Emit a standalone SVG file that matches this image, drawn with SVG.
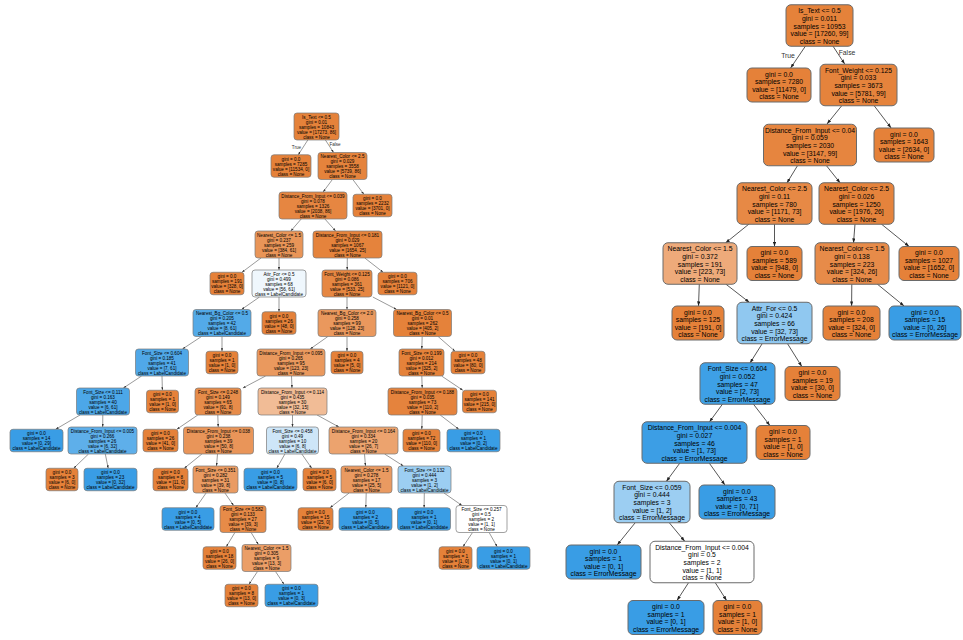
<svg xmlns="http://www.w3.org/2000/svg" width="963" height="640" viewBox="0 0 963 640">
<style>
text{font-family:"Liberation Sans",Arial,Helvetica,sans-serif;text-anchor:middle;dominant-baseline:central;fill:#000}
.L text{font-size:4.6px}
.R text{font-size:6.8px}
.L rect{stroke:#7a7a7a;stroke-width:0.7}
.R rect{stroke:#6a6a6a;stroke-width:1}
.o{fill:#e58139}.b{fill:#399de5}
.el line{stroke:#555;stroke-width:0.6;fill:none}
.er line{stroke:#444;stroke-width:0.9;fill:none}
.lbl{fill:#333}
</style>
<defs>
<marker id="aL" viewBox="0 0 10 7" refX="10" refY="3.5" markerUnits="userSpaceOnUse" markerWidth="3" markerHeight="2.2" orient="auto"><path d="M0,0L10,3.5L0,7z" fill="#333"/></marker>
<marker id="aR" viewBox="0 0 10 7" refX="10" refY="3.5" markerUnits="userSpaceOnUse" markerWidth="4.6" markerHeight="3.3" orient="auto"><path d="M0,0L10,3.5L0,7z" fill="#222"/></marker>
</defs>
<rect width="963" height="640" fill="#fff"/>
<g id="connectors">
<g class="el" marker-end="url(#aL)">
<line x1="307.8" y1="140" x2="298.3" y2="154.75" marker-end="url(#aL)"/>
<line x1="325.4" y1="140" x2="333.6" y2="152.5" marker-end="url(#aL)"/>
<line x1="332.4" y1="179.5" x2="323.1" y2="192" marker-end="url(#aL)"/>
<line x1="352.8" y1="179.5" x2="363.9" y2="194.25" marker-end="url(#aL)"/>
<line x1="301.2" y1="219" x2="290.8" y2="231" marker-end="url(#aL)"/>
<line x1="324.9" y1="219" x2="335.6" y2="231" marker-end="url(#aL)"/>
<line x1="261" y1="258" x2="242" y2="272.25" marker-end="url(#aL)"/>
<line x1="279" y1="258" x2="279" y2="270" marker-end="url(#aL)"/>
<line x1="347.3" y1="258" x2="347.2" y2="270" marker-end="url(#aL)"/>
<line x1="364.8" y1="258" x2="383.1" y2="272.25" marker-end="url(#aL)"/>
<line x1="259.5" y1="297" x2="241.5" y2="309.5" marker-end="url(#aL)"/>
<line x1="279" y1="297" x2="279" y2="311.75" marker-end="url(#aL)"/>
<line x1="347" y1="297" x2="347" y2="309.5" marker-end="url(#aL)"/>
<line x1="372.8" y1="297" x2="396.7" y2="309.5" marker-end="url(#aL)"/>
<line x1="201.5" y1="336.5" x2="182.5" y2="349" marker-end="url(#aL)"/>
<line x1="222" y1="336.5" x2="222" y2="351.25" marker-end="url(#aL)"/>
<line x1="327.9" y1="336.5" x2="310.2" y2="349" marker-end="url(#aL)"/>
<line x1="347" y1="336.5" x2="347" y2="351.25" marker-end="url(#aL)"/>
<line x1="422.2" y1="336.5" x2="421.8" y2="349" marker-end="url(#aL)"/>
<line x1="438.1" y1="336.5" x2="455" y2="351.25" marker-end="url(#aL)"/>
<line x1="141.6" y1="376" x2="123.4" y2="388" marker-end="url(#aL)"/>
<line x1="162" y1="376" x2="162.4" y2="390.25" marker-end="url(#aL)"/>
<line x1="265.6" y1="376" x2="242.9" y2="388" marker-end="url(#aL)"/>
<line x1="291.5" y1="376" x2="292" y2="388" marker-end="url(#aL)"/>
<line x1="421.8" y1="376" x2="422.2" y2="388" marker-end="url(#aL)"/>
<line x1="441.6" y1="376" x2="462.8" y2="390.25" marker-end="url(#aL)"/>
<line x1="80" y1="415" x2="55.7" y2="429.25" marker-end="url(#aL)"/>
<line x1="102.8" y1="415" x2="102.7" y2="427" marker-end="url(#aL)"/>
<line x1="197.8" y1="415" x2="176.9" y2="429.25" marker-end="url(#aL)"/>
<line x1="217.8" y1="415" x2="218.2" y2="427" marker-end="url(#aL)"/>
<line x1="292.5" y1="415" x2="292.5" y2="427" marker-end="url(#aL)"/>
<line x1="317.1" y1="415" x2="338.9" y2="427" marker-end="url(#aL)"/>
<line x1="422.2" y1="415" x2="421.8" y2="429.25" marker-end="url(#aL)"/>
<line x1="440.2" y1="415" x2="458.8" y2="429.25" marker-end="url(#aL)"/>
<line x1="88.5" y1="454" x2="73.7" y2="468.25" marker-end="url(#aL)"/>
<line x1="105.3" y1="454" x2="108.2" y2="468.25" marker-end="url(#aL)"/>
<line x1="201.9" y1="454" x2="184.3" y2="468.25" marker-end="url(#aL)"/>
<line x1="217.5" y1="454" x2="216.5" y2="466" marker-end="url(#aL)"/>
<line x1="284.9" y1="454" x2="276.8" y2="468.25" marker-end="url(#aL)"/>
<line x1="301.8" y1="454" x2="311.7" y2="468.25" marker-end="url(#aL)"/>
<line x1="364.5" y1="454" x2="365.5" y2="466" marker-end="url(#aL)"/>
<line x1="384.6" y1="454" x2="403.4" y2="466" marker-end="url(#aL)"/>
<line x1="206.1" y1="493" x2="195.8" y2="507.75" marker-end="url(#aL)"/>
<line x1="224.9" y1="493" x2="233.6" y2="505.5" marker-end="url(#aL)"/>
<line x1="349.1" y1="493" x2="330" y2="507.75" marker-end="url(#aL)"/>
<line x1="366.2" y1="493" x2="365.8" y2="507.75" marker-end="url(#aL)"/>
<line x1="424.3" y1="493" x2="424.1" y2="507.75" marker-end="url(#aL)"/>
<line x1="444" y1="493" x2="462" y2="505.5" marker-end="url(#aL)"/>
<line x1="234.9" y1="532.5" x2="226.3" y2="546.75" marker-end="url(#aL)"/>
<line x1="251.1" y1="532.5" x2="258.4" y2="544.5" marker-end="url(#aL)"/>
<line x1="472.5" y1="532.5" x2="463" y2="546.75" marker-end="url(#aL)"/>
<line x1="489.1" y1="532.5" x2="497.2" y2="546.75" marker-end="url(#aL)"/>
<line x1="257.5" y1="571.5" x2="249" y2="584.25" marker-end="url(#aL)"/>
<line x1="275.5" y1="571.5" x2="284" y2="584.25" marker-end="url(#aL)"/>
</g>
<g class="er">
<line x1="805.5" y1="46" x2="790.6" y2="68" marker-end="url(#aR)"/>
<line x1="832.9" y1="46" x2="844.7" y2="64" marker-end="url(#aR)"/>
<line x1="841.5" y1="106" x2="827" y2="124" marker-end="url(#aR)"/>
<line x1="874.4" y1="106" x2="891.1" y2="128" marker-end="url(#aR)"/>
<line x1="797.3" y1="166" x2="786.9" y2="183" marker-end="url(#aR)"/>
<line x1="826.7" y1="166" x2="840.2" y2="183" marker-end="url(#aR)"/>
<line x1="749" y1="224" x2="725.5" y2="243" marker-end="url(#aR)"/>
<line x1="774.5" y1="224" x2="774.5" y2="246.5" marker-end="url(#aR)"/>
<line x1="855" y1="224" x2="853.5" y2="243" marker-end="url(#aR)"/>
<line x1="881.3" y1="224" x2="909.1" y2="246.5" marker-end="url(#aR)"/>
<line x1="699.3" y1="284" x2="698.5" y2="306" marker-end="url(#aR)"/>
<line x1="725.7" y1="284" x2="749.5" y2="302.5" marker-end="url(#aR)"/>
<line x1="851.8" y1="284" x2="851.6" y2="306" marker-end="url(#aR)"/>
<line x1="877.2" y1="284" x2="904.1" y2="306" marker-end="url(#aR)"/>
<line x1="762.3" y1="343.5" x2="750" y2="363" marker-end="url(#aR)"/>
<line x1="787.4" y1="343.5" x2="801.8" y2="366.5" marker-end="url(#aR)"/>
<line x1="722.6" y1="404" x2="709.4" y2="422" marker-end="url(#aR)"/>
<line x1="753.3" y1="404" x2="769.9" y2="425.5" marker-end="url(#aR)"/>
<line x1="679.9" y1="463" x2="666.3" y2="481.5" marker-end="url(#aR)"/>
<line x1="709.2" y1="463" x2="724.9" y2="485" marker-end="url(#aR)"/>
<line x1="635.2" y1="522.75" x2="617.2" y2="545" marker-end="url(#aR)"/>
<line x1="669.3" y1="522.75" x2="684.7" y2="541.25" marker-end="url(#aR)"/>
<line x1="688.5" y1="582.75" x2="677" y2="600.5" marker-end="url(#aR)"/>
<line x1="715.3" y1="582.75" x2="726.6" y2="600.5" marker-end="url(#aR)"/>
</g>
<g class="L"><text class="lbl" x="296.5" y="147">True</text><text class="lbl" x="335" y="144.5">False</text></g>
<g class="R"><text class="lbl" x="788" y="55">True</text><text class="lbl" x="847" y="52.5">False</text></g>
</g>

<g class="L">
<g id="L0"><rect x="294" y="113" width="45" height="27" rx="3" fill="#e5823a"/><text y="116.5"><tspan x="316.5">Is_Text &lt;= 0.5</tspan><tspan x="316.5" dy="5">gini = 0.01</tspan><tspan x="316.5" dy="5">samples = 10843</tspan><tspan x="316.5" dy="5">value = [17273, 86]</tspan><tspan x="316.5" dy="5">class = None</tspan></text></g>
<g id="L1"><rect x="271" y="154.75" width="40" height="22.5" rx="3" class="o"/><text y="158.5"><tspan x="291">gini = 0.0</tspan><tspan x="291" dy="5">samples = 7285</tspan><tspan x="291" dy="5">value = [11534, 0]</tspan><tspan x="291" dy="5">class = None</tspan></text></g>
<g id="L2"><rect x="318" y="152.5" width="49" height="27" rx="3" fill="#e5833c"/><text y="156"><tspan x="342.5">Nearest_Color &lt;= 2.5</tspan><tspan x="342.5" dy="5">gini = 0.029</tspan><tspan x="342.5" dy="5">samples = 3558</tspan><tspan x="342.5" dy="5">value = [5739, 86]</tspan><tspan x="342.5" dy="5">class = None</tspan></text></g>
<g id="L3"><rect x="279" y="192" width="68" height="27" rx="3" fill="#e68641"/><text y="195.5"><tspan x="313">Distance_From_Input &lt;= 0.039</tspan><tspan x="313" dy="5">gini = 0.078</tspan><tspan x="313" dy="5">samples = 1326</tspan><tspan x="313" dy="5">value = [2038, 86]</tspan><tspan x="313" dy="5">class = None</tspan></text></g>
<g id="L4"><rect x="353" y="194.25" width="39" height="22.5" rx="3" class="o"/><text y="198"><tspan x="372.5">gini = 0.0</tspan><tspan x="372.5" dy="5">samples = 2232</tspan><tspan x="372.5" dy="5">value = [3701, 0]</tspan><tspan x="372.5" dy="5">class = None</tspan></text></g>
<g id="L5"><rect x="255" y="231" width="48" height="27" rx="3" fill="#e99558"/><text y="234.5"><tspan x="279">Nearest_Color &lt;= 1.5</tspan><tspan x="279" dy="5">gini = 0.237</tspan><tspan x="279" dy="5">samples = 259</tspan><tspan x="279" dy="5">value = [384, 61]</tspan><tspan x="279" dy="5">class = None</tspan></text></g>
<g id="L6"><rect x="313" y="231" width="69" height="27" rx="3" fill="#e5833c"/><text y="234.5"><tspan x="347.5">Distance_From_Input &lt;= 0.181</tspan><tspan x="347.5" dy="5">gini = 0.029</tspan><tspan x="347.5" dy="5">samples = 1067</tspan><tspan x="347.5" dy="5">value = [1654, 25]</tspan><tspan x="347.5" dy="5">class = None</tspan></text></g>
<g id="L7"><rect x="210" y="272.25" width="34" height="22.5" rx="3" class="o"/><text y="276"><tspan x="227">gini = 0.0</tspan><tspan x="227" dy="5">samples = 191</tspan><tspan x="227" dy="5">value = [328, 0]</tspan><tspan x="227" dy="5">class = None</tspan></text></g>
<g id="L8"><rect x="252" y="270" width="54" height="27" rx="3" fill="#eff7fd"/><text y="273.5"><tspan x="279">Attr_For &lt;= 0.5</tspan><tspan x="279" dy="5">gini = 0.499</tspan><tspan x="279" dy="5">samples = 68</tspan><tspan x="279" dy="5">value = [56, 61]</tspan><tspan x="279" dy="5">class = LabelCandidate</tspan></text></g>
<g id="L9"><rect x="322" y="270" width="50" height="27" rx="3" fill="#e68742"/><text y="273.5"><tspan x="347">Font_Weight &lt;= 0.125</tspan><tspan x="347" dy="5">gini = 0.086</tspan><tspan x="347" dy="5">samples = 361</tspan><tspan x="347" dy="5">value = [533, 25]</tspan><tspan x="347" dy="5">class = None</tspan></text></g>
<g id="L10"><rect x="378" y="272.25" width="39" height="22.5" rx="3" class="o"/><text y="276"><tspan x="397.5">gini = 0.0</tspan><tspan x="397.5" dy="5">samples = 706</tspan><tspan x="397.5" dy="5">value = [1121, 0]</tspan><tspan x="397.5" dy="5">class = None</tspan></text></g>
<g id="L11"><rect x="193" y="309.5" width="58" height="27" rx="3" fill="#53aae8"/><text y="313"><tspan x="222">Nearest_Bg_Color &lt;= 0.5</tspan><tspan x="222" dy="5">gini = 0.205</tspan><tspan x="222" dy="5">samples = 42</tspan><tspan x="222" dy="5">value = [8, 61]</tspan><tspan x="222" dy="5">class = LabelCandidate</tspan></text></g>
<g id="L12"><rect x="262" y="311.75" width="34" height="22.5" rx="3" class="o"/><text y="315.5"><tspan x="279">gini = 0.0</tspan><tspan x="279" dy="5">samples = 26</tspan><tspan x="279" dy="5">value = [48, 0]</tspan><tspan x="279" dy="5">class = None</tspan></text></g>
<g id="L13"><rect x="318" y="309.5" width="58" height="27" rx="3" fill="#ea985d"/><text y="313"><tspan x="347">Nearest_Bg_Color &lt;= 2.0</tspan><tspan x="347" dy="5">gini = 0.258</tspan><tspan x="347" dy="5">samples = 99</tspan><tspan x="347" dy="5">value = [128, 23]</tspan><tspan x="347" dy="5">class = None</tspan></text></g>
<g id="L14"><rect x="393.5" y="309.5" width="58" height="27" rx="3" fill="#e5823a"/><text y="313"><tspan x="422.5">Nearest_Bg_Color &lt;= 0.5</tspan><tspan x="422.5" dy="5">gini = 0.01</tspan><tspan x="422.5" dy="5">samples = 262</tspan><tspan x="422.5" dy="5">value = [405, 2]</tspan><tspan x="422.5" dy="5">class = None</tspan></text></g>
<g id="L15"><rect x="135.5" y="349" width="53" height="27" rx="3" fill="#50a8e8"/><text y="352.5"><tspan x="162">Font_Size &lt;= 0.604</tspan><tspan x="162" dy="5">gini = 0.185</tspan><tspan x="162" dy="5">samples = 41</tspan><tspan x="162" dy="5">value = [7, 61]</tspan><tspan x="162" dy="5">class = LabelCandidate</tspan></text></g>
<g id="L16"><rect x="206" y="351.25" width="32" height="22.5" rx="3" class="o"/><text y="355"><tspan x="222">gini = 0.0</tspan><tspan x="222" dy="5">samples = 1</tspan><tspan x="222" dy="5">value = [1, 0]</tspan><tspan x="222" dy="5">class = None</tspan></text></g>
<g id="L33"><rect x="257" y="349" width="68" height="27" rx="3" fill="#ea995e"/><text y="352.5"><tspan x="291">Distance_From_Input &lt;= 0.095</tspan><tspan x="291" dy="5">gini = 0.265</tspan><tspan x="291" dy="5">samples = 95</tspan><tspan x="291" dy="5">value = [123, 23]</tspan><tspan x="291" dy="5">class = None</tspan></text></g>
<g id="L34"><rect x="331" y="351.25" width="32" height="22.5" rx="3" class="o"/><text y="355"><tspan x="347">gini = 0.0</tspan><tspan x="347" dy="5">samples = 4</tspan><tspan x="347" dy="5">value = [5, 0]</tspan><tspan x="347" dy="5">class = None</tspan></text></g>
<g id="L35"><rect x="399" y="349" width="45" height="27" rx="3" fill="#e5823a"/><text y="352.5"><tspan x="421.5">Font_Size &lt;= 0.199</tspan><tspan x="421.5" dy="5">gini = 0.012</tspan><tspan x="421.5" dy="5">samples = 214</tspan><tspan x="421.5" dy="5">value = [325, 2]</tspan><tspan x="421.5" dy="5">class = None</tspan></text></g>
<g id="L36"><rect x="451" y="351.25" width="34" height="22.5" rx="3" class="o"/><text y="355"><tspan x="468">gini = 0.0</tspan><tspan x="468" dy="5">samples = 48</tspan><tspan x="468" dy="5">value = [80, 0]</tspan><tspan x="468" dy="5">class = None</tspan></text></g>
<g id="L17"><rect x="76.5" y="388" width="53" height="27" rx="3" fill="#4ca7e8"/><text y="391.5"><tspan x="103">Font_Size &lt;= 0.111</tspan><tspan x="103" dy="5">gini = 0.163</tspan><tspan x="103" dy="5">samples = 40</tspan><tspan x="103" dy="5">value = [6, 61]</tspan><tspan x="103" dy="5">class = LabelCandidate</tspan></text></g>
<g id="L18"><rect x="146.5" y="390.25" width="32" height="22.5" rx="3" class="o"/><text y="394"><tspan x="162.5">gini = 0.0</tspan><tspan x="162.5" dy="5">samples = 1</tspan><tspan x="162.5" dy="5">value = [1, 0]</tspan><tspan x="162.5" dy="5">class = None</tspan></text></g>
<g id="L23"><rect x="195" y="388" width="46" height="27" rx="3" fill="#e78c4a"/><text y="391.5"><tspan x="218">Font_Size &lt;= 0.248</tspan><tspan x="218" dy="5">gini = 0.149</tspan><tspan x="218" dy="5">samples = 65</tspan><tspan x="218" dy="5">value = [91, 8]</tspan><tspan x="218" dy="5">class = None</tspan></text></g>
<g id="L24"><rect x="258" y="388" width="69" height="27" rx="3" fill="#f1bc96"/><text y="391.5"><tspan x="292.5">Distance_From_Input &lt;= 0.114</tspan><tspan x="292.5" dy="5">gini = 0.435</tspan><tspan x="292.5" dy="5">samples = 30</tspan><tspan x="292.5" dy="5">value = [32, 15]</tspan><tspan x="292.5" dy="5">class = None</tspan></text></g>
<g id="L25"><rect x="388" y="388" width="69" height="27" rx="3" fill="#e5833d"/><text y="391.5"><tspan x="422.5">Distance_From_Input &lt;= 0.188</tspan><tspan x="422.5" dy="5">gini = 0.035</tspan><tspan x="422.5" dy="5">samples = 73</tspan><tspan x="422.5" dy="5">value = [110, 2]</tspan><tspan x="422.5" dy="5">class = None</tspan></text></g>
<g id="L26"><rect x="462.5" y="390.25" width="34" height="22.5" rx="3" class="o"/><text y="394"><tspan x="479.5">gini = 0.0</tspan><tspan x="479.5" dy="5">samples = 141</tspan><tspan x="479.5" dy="5">value = [215, 0]</tspan><tspan x="479.5" dy="5">class = None</tspan></text></g>
<g id="L19"><rect x="10" y="429.25" width="53" height="22.5" rx="3" class="b"/><text y="433"><tspan x="36.5">gini = 0.0</tspan><tspan x="36.5" dy="5">samples = 14</tspan><tspan x="36.5" dy="5">value = [0, 29]</tspan><tspan x="36.5" dy="5">class = LabelCandidate</tspan></text></g>
<g id="L20"><rect x="68" y="427" width="69" height="27" rx="3" fill="#5eafea"/><text y="430.5"><tspan x="102.5">Distance_From_Input &lt;= 0.005</tspan><tspan x="102.5" dy="5">gini = 0.266</tspan><tspan x="102.5" dy="5">samples = 26</tspan><tspan x="102.5" dy="5">value = [6, 32]</tspan><tspan x="102.5" dy="5">class = LabelCandidate</tspan></text></g>
<g id="L27"><rect x="143" y="429.25" width="35" height="22.5" rx="3" class="o"/><text y="433"><tspan x="160.5">gini = 0.0</tspan><tspan x="160.5" dy="5">samples = 26</tspan><tspan x="160.5" dy="5">value = [41, 0]</tspan><tspan x="160.5" dy="5">class = None</tspan></text></g>
<g id="L28"><rect x="183.5" y="427" width="70" height="27" rx="3" fill="#e99559"/><text y="430.5"><tspan x="218.5">Distance_From_Input &lt;= 0.038</tspan><tspan x="218.5" dy="5">gini = 0.238</tspan><tspan x="218.5" dy="5">samples = 39</tspan><tspan x="218.5" dy="5">value = [50, 8]</tspan><tspan x="218.5" dy="5">class = None</tspan></text></g>
<g id="L29"><rect x="266.5" y="427" width="52" height="27" rx="3" fill="#cee6f8"/><text y="430.5"><tspan x="292.5">Font_Size &lt;= 0.458</tspan><tspan x="292.5" dy="5">gini = 0.49</tspan><tspan x="292.5" dy="5">samples = 10</tspan><tspan x="292.5" dy="5">value = [6, 8]</tspan><tspan x="292.5" dy="5">class = LabelCandidate</tspan></text></g>
<g id="L30"><rect x="329" y="427" width="69" height="27" rx="3" fill="#eca36e"/><text y="430.5"><tspan x="363.5">Distance_From_Input &lt;= 0.164</tspan><tspan x="363.5" dy="5">gini = 0.334</tspan><tspan x="363.5" dy="5">samples = 20</tspan><tspan x="363.5" dy="5">value = [26, 7]</tspan><tspan x="363.5" dy="5">class = None</tspan></text></g>
<g id="L31"><rect x="403" y="429.25" width="37" height="22.5" rx="3" class="o"/><text y="433"><tspan x="421.5">gini = 0.0</tspan><tspan x="421.5" dy="5">samples = 72</tspan><tspan x="421.5" dy="5">value = [110, 0]</tspan><tspan x="421.5" dy="5">class = None</tspan></text></g>
<g id="L32"><rect x="447" y="429.25" width="53" height="22.5" rx="3" class="b"/><text y="433"><tspan x="473.5">gini = 0.0</tspan><tspan x="473.5" dy="5">samples = 1</tspan><tspan x="473.5" dy="5">value = [0, 2]</tspan><tspan x="473.5" dy="5">class = LabelCandidate</tspan></text></g>
<g id="L21"><rect x="46" y="468.25" width="32" height="22.5" rx="3" class="o"/><text y="472"><tspan x="62">gini = 0.0</tspan><tspan x="62" dy="5">samples = 3</tspan><tspan x="62" dy="5">value = [6, 0]</tspan><tspan x="62" dy="5">class = None</tspan></text></g>
<g id="L22"><rect x="84" y="468.25" width="53" height="22.5" rx="3" class="b"/><text y="472"><tspan x="110.5">gini = 0.0</tspan><tspan x="110.5" dy="5">samples = 23</tspan><tspan x="110.5" dy="5">value = [0, 32]</tspan><tspan x="110.5" dy="5">class = LabelCandidate</tspan></text></g>
<g id="L37"><rect x="153" y="468.25" width="35" height="22.5" rx="3" class="o"/><text y="472"><tspan x="170.5">gini = 0.0</tspan><tspan x="170.5" dy="5">samples = 8</tspan><tspan x="170.5" dy="5">value = [11, 0]</tspan><tspan x="170.5" dy="5">class = None</tspan></text></g>
<g id="L38"><rect x="193" y="466" width="45" height="27" rx="3" fill="#ea9b62"/><text y="469.5"><tspan x="215.5">Font_Size &lt;= 0.351</tspan><tspan x="215.5" dy="5">gini = 0.282</tspan><tspan x="215.5" dy="5">samples = 31</tspan><tspan x="215.5" dy="5">value = [39, 8]</tspan><tspan x="215.5" dy="5">class = None</tspan></text></g>
<g id="L39"><rect x="244" y="468.25" width="53" height="22.5" rx="3" class="b"/><text y="472"><tspan x="270.5">gini = 0.0</tspan><tspan x="270.5" dy="5">samples = 5</tspan><tspan x="270.5" dy="5">value = [0, 8]</tspan><tspan x="270.5" dy="5">class = LabelCandidate</tspan></text></g>
<g id="L40"><rect x="303" y="468.25" width="33" height="22.5" rx="3" class="o"/><text y="472"><tspan x="319.5">gini = 0.0</tspan><tspan x="319.5" dy="5">samples = 5</tspan><tspan x="319.5" dy="5">value = [6, 0]</tspan><tspan x="319.5" dy="5">class = None</tspan></text></g>
<g id="L41"><rect x="341" y="466" width="51" height="27" rx="3" fill="#ea9a61"/><text y="469.5"><tspan x="366.5">Nearest_Color &lt;= 1.5</tspan><tspan x="366.5" dy="5">gini = 0.278</tspan><tspan x="366.5" dy="5">samples = 17</tspan><tspan x="366.5" dy="5">value = [25, 5]</tspan><tspan x="366.5" dy="5">class = None</tspan></text></g>
<g id="L42"><rect x="398" y="466" width="53" height="27" rx="3" fill="#9ccef2"/><text y="469.5"><tspan x="424.5">Font_Size &lt;= 0.132</tspan><tspan x="424.5" dy="5">gini = 0.444</tspan><tspan x="424.5" dy="5">samples = 3</tspan><tspan x="424.5" dy="5">value = [1, 2]</tspan><tspan x="424.5" dy="5">class = LabelCandidate</tspan></text></g>
<g id="L43"><rect x="162" y="507.75" width="52" height="22.5" rx="3" class="b"/><text y="511.5"><tspan x="188">gini = 0.0</tspan><tspan x="188" dy="5">samples = 4</tspan><tspan x="188" dy="5">value = [0, 5]</tspan><tspan x="188" dy="5">class = LabelCandidate</tspan></text></g>
<g id="L44"><rect x="220" y="505.5" width="46" height="27" rx="3" fill="#e78b48"/><text y="509"><tspan x="243">Font_Size &lt;= 0.582</tspan><tspan x="243" dy="5">gini = 0.133</tspan><tspan x="243" dy="5">samples = 27</tspan><tspan x="243" dy="5">value = [39, 3]</tspan><tspan x="243" dy="5">class = None</tspan></text></g>
<g id="L45"><rect x="298" y="507.75" width="35" height="22.5" rx="3" class="o"/><text y="511.5"><tspan x="315.5">gini = 0.0</tspan><tspan x="315.5" dy="5">samples = 15</tspan><tspan x="315.5" dy="5">value = [25, 0]</tspan><tspan x="315.5" dy="5">class = None</tspan></text></g>
<g id="L46"><rect x="339" y="507.75" width="53" height="22.5" rx="3" class="b"/><text y="511.5"><tspan x="365.5">gini = 0.0</tspan><tspan x="365.5" dy="5">samples = 2</tspan><tspan x="365.5" dy="5">value = [0, 5]</tspan><tspan x="365.5" dy="5">class = LabelCandidate</tspan></text></g>
<g id="L47"><rect x="397.5" y="507.75" width="53" height="22.5" rx="3" class="b"/><text y="511.5"><tspan x="424">gini = 0.0</tspan><tspan x="424" dy="5">samples = 1</tspan><tspan x="424" dy="5">value = [0, 1]</tspan><tspan x="424" dy="5">class = LabelCandidate</tspan></text></g>
<g id="L48"><rect x="456" y="505.5" width="51" height="27" rx="3" fill="#ffffff"/><text y="509"><tspan x="481.5">Font_Size &lt;= 0.257</tspan><tspan x="481.5" dy="5">gini = 0.5</tspan><tspan x="481.5" dy="5">samples = 2</tspan><tspan x="481.5" dy="5">value = [1, 1]</tspan><tspan x="481.5" dy="5">class = None</tspan></text></g>
<g id="L49"><rect x="203" y="546.75" width="33" height="22.5" rx="3" class="o"/><text y="550.5"><tspan x="219.5">gini = 0.0</tspan><tspan x="219.5" dy="5">samples = 18</tspan><tspan x="219.5" dy="5">value = [26, 0]</tspan><tspan x="219.5" dy="5">class = None</tspan></text></g>
<g id="L50"><rect x="242" y="544.5" width="49" height="27" rx="3" fill="#eb9e67"/><text y="548"><tspan x="266.5">Nearest_Color &lt;= 1.5</tspan><tspan x="266.5" dy="5">gini = 0.305</tspan><tspan x="266.5" dy="5">samples = 9</tspan><tspan x="266.5" dy="5">value = [13, 3]</tspan><tspan x="266.5" dy="5">class = None</tspan></text></g>
<g id="L51"><rect x="439" y="546.75" width="33" height="22.5" rx="3" class="o"/><text y="550.5"><tspan x="455.5">gini = 0.0</tspan><tspan x="455.5" dy="5">samples = 1</tspan><tspan x="455.5" dy="5">value = [1, 0]</tspan><tspan x="455.5" dy="5">class = None</tspan></text></g>
<g id="L52"><rect x="477" y="546.75" width="53" height="22.5" rx="3" class="b"/><text y="550.5"><tspan x="503.5">gini = 0.0</tspan><tspan x="503.5" dy="5">samples = 1</tspan><tspan x="503.5" dy="5">value = [0, 1]</tspan><tspan x="503.5" dy="5">class = LabelCandidate</tspan></text></g>
<g id="L53"><rect x="225" y="584.25" width="33" height="22.5" rx="3" class="o"/><text y="588"><tspan x="241.5">gini = 0.0</tspan><tspan x="241.5" dy="5">samples = 8</tspan><tspan x="241.5" dy="5">value = [13, 0]</tspan><tspan x="241.5" dy="5">class = None</tspan></text></g>
<g id="L54"><rect x="265" y="584.25" width="53" height="22.5" rx="3" class="b"/><text y="588"><tspan x="291.5">gini = 0.0</tspan><tspan x="291.5" dy="5">samples = 1</tspan><tspan x="291.5" dy="5">value = [0, 3]</tspan><tspan x="291.5" dy="5">class = LabelCandidate</tspan></text></g>
</g>

<g class="R">
<g id="R0"><rect x="786" y="4.75" width="67" height="41.5" rx="5" fill="#e5823a"/><text y="10.3"><tspan x="819.5">Is_Text &lt;= 0.5</tspan><tspan x="819.5" dy="7.6">gini = 0.011</tspan><tspan x="819.5" dy="7.6">samples = 10953</tspan><tspan x="819.5" dy="7.6">value = [17260, 99]</tspan><tspan x="819.5" dy="7.6">class = None</tspan></text></g>
<g id="R1"><rect x="747" y="68" width="64" height="34" rx="5" class="o"/><text y="73.6"><tspan x="779">gini = 0.0</tspan><tspan x="779" dy="7.6">samples = 7280</tspan><tspan x="779" dy="7.6">value = [11479, 0]</tspan><tspan x="779" dy="7.6">class = None</tspan></text></g>
<g id="R2"><rect x="820" y="64.25" width="77" height="41.5" rx="5" fill="#e5833c"/><text y="69.8"><tspan x="858.5">Font_Weight &lt;= 0.125</tspan><tspan x="858.5" dy="7.6">gini = 0.033</tspan><tspan x="858.5" dy="7.6">samples = 3673</tspan><tspan x="858.5" dy="7.6">value = [5781, 99]</tspan><tspan x="858.5" dy="7.6">class = None</tspan></text></g>
<g id="R3"><rect x="763.5" y="124.25" width="93" height="41.5" rx="5" fill="#e6853f"/><text y="129.8"><tspan x="810">Distance_From_Input &lt;= 0.04</tspan><tspan x="810" dy="7.6">gini = 0.059</tspan><tspan x="810" dy="7.6">samples = 2030</tspan><tspan x="810" dy="7.6">value = [3147, 99]</tspan><tspan x="810" dy="7.6">class = None</tspan></text></g>
<g id="R4"><rect x="874" y="128" width="60" height="34" rx="5" class="o"/><text y="133.6"><tspan x="904">gini = 0.0</tspan><tspan x="904" dy="7.6">samples = 1643</tspan><tspan x="904" dy="7.6">value = [2634, 0]</tspan><tspan x="904" dy="7.6">class = None</tspan></text></g>
<g id="R5"><rect x="737" y="182.75" width="75" height="41.5" rx="5" fill="#e78945"/><text y="188.3"><tspan x="774.5">Nearest_Color &lt;= 2.5</tspan><tspan x="774.5" dy="7.6">gini = 0.11</tspan><tspan x="774.5" dy="7.6">samples = 780</tspan><tspan x="774.5" dy="7.6">value = [1171, 73]</tspan><tspan x="774.5" dy="7.6">class = None</tspan></text></g>
<g id="R6"><rect x="819" y="182.75" width="75" height="41.5" rx="5" fill="#e5833c"/><text y="188.3"><tspan x="856.5">Nearest_Color &lt;= 2.5</tspan><tspan x="856.5" dy="7.6">gini = 0.026</tspan><tspan x="856.5" dy="7.6">samples = 1250</tspan><tspan x="856.5" dy="7.6">value = [1976, 26]</tspan><tspan x="856.5" dy="7.6">class = None</tspan></text></g>
<g id="R7"><rect x="663" y="242.75" width="74" height="41.5" rx="5" fill="#eeaa7a"/><text y="248.3"><tspan x="700">Nearest_Color &lt;= 1.5</tspan><tspan x="700" dy="7.6">gini = 0.372</tspan><tspan x="700" dy="7.6">samples = 191</tspan><tspan x="700" dy="7.6">value = [223, 73]</tspan><tspan x="700" dy="7.6">class = None</tspan></text></g>
<g id="R8"><rect x="747" y="246.5" width="55" height="34" rx="5" class="o"/><text y="252.1"><tspan x="774.5">gini = 0.0</tspan><tspan x="774.5" dy="7.6">samples = 589</tspan><tspan x="774.5" dy="7.6">value = [948, 0]</tspan><tspan x="774.5" dy="7.6">class = None</tspan></text></g>
<g id="R9"><rect x="815" y="242.75" width="74" height="41.5" rx="5" fill="#e78b49"/><text y="248.3"><tspan x="852">Nearest_Color &lt;= 1.5</tspan><tspan x="852" dy="7.6">gini = 0.138</tspan><tspan x="852" dy="7.6">samples = 223</tspan><tspan x="852" dy="7.6">value = [324, 26]</tspan><tspan x="852" dy="7.6">class = None</tspan></text></g>
<g id="R10"><rect x="899" y="246.5" width="60" height="34" rx="5" class="o"/><text y="252.1"><tspan x="929">gini = 0.0</tspan><tspan x="929" dy="7.6">samples = 1027</tspan><tspan x="929" dy="7.6">value = [1652, 0]</tspan><tspan x="929" dy="7.6">class = None</tspan></text></g>
<g id="R11"><rect x="672" y="306" width="52" height="34" rx="5" class="o"/><text y="311.6"><tspan x="698">gini = 0.0</tspan><tspan x="698" dy="7.6">samples = 125</tspan><tspan x="698" dy="7.6">value = [191, 0]</tspan><tspan x="698" dy="7.6">class = None</tspan></text></g>
<g id="R12"><rect x="737" y="302.25" width="75" height="41.5" rx="5" fill="#90c8f0"/><text y="307.8"><tspan x="774.5">Attr_For &lt;= 0.5</tspan><tspan x="774.5" dy="7.6">gini = 0.424</tspan><tspan x="774.5" dy="7.6">samples = 66</tspan><tspan x="774.5" dy="7.6">value = [32, 73]</tspan><tspan x="774.5" dy="7.6">class = ErrorMessage</tspan></text></g>
<g id="R13"><rect x="823" y="306" width="57" height="34" rx="5" class="o"/><text y="311.6"><tspan x="851.5">gini = 0.0</tspan><tspan x="851.5" dy="7.6">samples = 208</tspan><tspan x="851.5" dy="7.6">value = [324, 0]</tspan><tspan x="851.5" dy="7.6">class = None</tspan></text></g>
<g id="R14"><rect x="889" y="306" width="72" height="34" rx="5" class="b"/><text y="311.6"><tspan x="925">gini = 0.0</tspan><tspan x="925" dy="7.6">samples = 15</tspan><tspan x="925" dy="7.6">value = [0, 26]</tspan><tspan x="925" dy="7.6">class = ErrorMessage</tspan></text></g>
<g id="R15"><rect x="700" y="362.75" width="75" height="41.5" rx="5" fill="#3ea0e6"/><text y="368.3"><tspan x="737.5">Font_Size &lt;= 0.604</tspan><tspan x="737.5" dy="7.6">gini = 0.052</tspan><tspan x="737.5" dy="7.6">samples = 47</tspan><tspan x="737.5" dy="7.6">value = [2, 73]</tspan><tspan x="737.5" dy="7.6">class = ErrorMessage</tspan></text></g>
<g id="R16"><rect x="785" y="366.5" width="55" height="34" rx="5" class="o"/><text y="372.1"><tspan x="812.5">gini = 0.0</tspan><tspan x="812.5" dy="7.6">samples = 19</tspan><tspan x="812.5" dy="7.6">value = [30, 0]</tspan><tspan x="812.5" dy="7.6">class = None</tspan></text></g>
<g id="R17"><rect x="642" y="421.75" width="105" height="41.5" rx="5" fill="#3c9ee5"/><text y="427.3"><tspan x="694.5">Distance_From_Input &lt;= 0.004</tspan><tspan x="694.5" dy="7.6">gini = 0.027</tspan><tspan x="694.5" dy="7.6">samples = 46</tspan><tspan x="694.5" dy="7.6">value = [1, 73]</tspan><tspan x="694.5" dy="7.6">class = ErrorMessage</tspan></text></g>
<g id="R18"><rect x="756" y="425.5" width="54" height="34" rx="5" class="o"/><text y="431.1"><tspan x="783">gini = 0.0</tspan><tspan x="783" dy="7.6">samples = 1</tspan><tspan x="783" dy="7.6">value = [1, 0]</tspan><tspan x="783" dy="7.6">class = None</tspan></text></g>
<g id="R19"><rect x="614" y="481.25" width="76" height="41.5" rx="5" fill="#9ccef2"/><text y="486.8"><tspan x="652">Font_Size &lt;= 0.059</tspan><tspan x="652" dy="7.6">gini = 0.444</tspan><tspan x="652" dy="7.6">samples = 3</tspan><tspan x="652" dy="7.6">value = [1, 2]</tspan><tspan x="652" dy="7.6">class = ErrorMessage</tspan></text></g>
<g id="R20"><rect x="699" y="485" width="76" height="34" rx="5" class="b"/><text y="490.6"><tspan x="737">gini = 0.0</tspan><tspan x="737" dy="7.6">samples = 43</tspan><tspan x="737" dy="7.6">value = [0, 71]</tspan><tspan x="737" dy="7.6">class = ErrorMessage</tspan></text></g>
<g id="R21"><rect x="566" y="545" width="75" height="34" rx="5" class="b"/><text y="550.6"><tspan x="603.5">gini = 0.0</tspan><tspan x="603.5" dy="7.6">samples = 1</tspan><tspan x="603.5" dy="7.6">value = [0, 1]</tspan><tspan x="603.5" dy="7.6">class = ErrorMessage</tspan></text></g>
<g id="R22"><rect x="650" y="541.25" width="104" height="41.5" rx="5" fill="#ffffff"/><text y="546.8"><tspan x="702">Distance_From_Input &lt;= 0.004</tspan><tspan x="702" dy="7.6">gini = 0.5</tspan><tspan x="702" dy="7.6">samples = 2</tspan><tspan x="702" dy="7.6">value = [1, 1]</tspan><tspan x="702" dy="7.6">class = None</tspan></text></g>
<g id="R23"><rect x="628" y="600.5" width="76" height="34" rx="5" class="b"/><text y="606.1"><tspan x="666">gini = 0.0</tspan><tspan x="666" dy="7.6">samples = 1</tspan><tspan x="666" dy="7.6">value = [0, 1]</tspan><tspan x="666" dy="7.6">class = ErrorMessage</tspan></text></g>
<g id="R24"><rect x="713" y="600.5" width="49" height="34" rx="5" class="o"/><text y="606.1"><tspan x="737.5">gini = 0.0</tspan><tspan x="737.5" dy="7.6">samples = 1</tspan><tspan x="737.5" dy="7.6">value = [1, 0]</tspan><tspan x="737.5" dy="7.6">class = None</tspan></text></g>
</g>
</svg>
